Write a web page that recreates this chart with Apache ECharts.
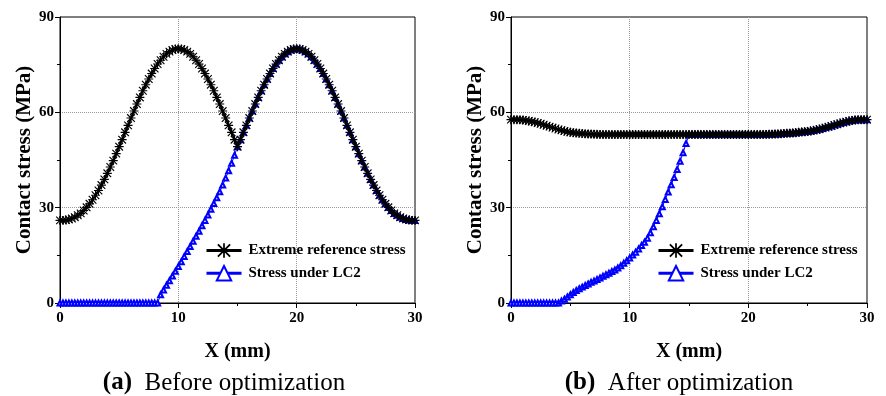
<!DOCTYPE html>
<html><head><meta charset="utf-8">
<script src="https://cdn.jsdelivr.net/npm/echarts@6/dist/echarts.min.js"></script>
<style>html,body{margin:0;padding:0;background:#fff}#c{width:886px;height:396px}</style>
</head><body><div id="c"></div>
<script>
// ---------- data ----------
// x positions in mm (sample grid every 0.25 mm, 0..30)
const xMm = [];
for (let i = 0; i <= 120; i++) xMm.push(i * 0.25);

const xTicks = [0, 10, 20, 30];
const yTicks = [0, 30, 60, 90];

// (a) Before optimization
const refStressA = [
  26.0, 26.0, 26.1, 26.3, 26.6, 27.0, 27.6, 28.2, 29.1, 30.1,
  31.2, 32.5, 33.9, 35.4, 37.1, 38.9, 40.8, 42.8, 44.8, 47.0,
  49.2, 51.4, 53.7, 55.9, 58.2, 60.4, 62.6, 64.7, 66.8, 68.7,
  70.5, 72.2, 73.8, 75.2, 76.4, 77.5, 78.4, 79.1, 79.6, 79.9, 80.0,
  79.9, 79.6, 79.1, 78.4, 77.5, 76.4, 75.2, 73.8, 72.2, 70.5,
  68.7, 66.8, 64.7, 62.6, 60.4, 58.2, 55.9, 53.7, 51.4, 49.2,
  51.4, 53.7, 55.9, 58.2, 60.4, 62.6, 64.7, 66.8, 68.7, 70.5,
  72.2, 73.8, 75.2, 76.4, 77.5, 78.4, 79.1, 79.6, 79.9, 80.0,
  79.9, 79.6, 79.1, 78.4, 77.5, 76.4, 75.2, 73.8, 72.2, 70.5,
  68.7, 66.8, 64.7, 62.6, 60.4, 58.2, 55.9, 53.7, 51.4, 49.2,
  47.0, 44.8, 42.8, 40.8, 38.9, 37.1, 35.4, 33.9, 32.5, 31.2,
  30.1, 29.1, 28.2, 27.6, 27.0, 26.6, 26.3, 26.1, 26.0, 26.0
];
const lc2StressA = [
  0, 0, 0, 0, 0, 0, 0, 0, 0, 0,
  0, 0, 0, 0, 0, 0, 0, 0, 0, 0,
  0, 0, 0, 0, 0, 0, 0, 0, 0, 0,
  0, 0, 0, 0,
  2.6, 4.1, 5.6, 7.0, 8.5, 10.0, 11.5, 13.0, 14.6, 16.2,
  17.8, 19.4, 21.0, 22.6, 24.3, 26.0, 27.7, 29.5, 31.3, 33.1,
  35.0, 37.1, 39.3, 41.6, 44.0, 46.5, 49.2,
  51.4, 53.7, 55.9, 58.2, 60.4, 62.6, 64.7, 66.8, 68.7, 70.5,
  72.2, 73.8, 75.2, 76.4, 77.5, 78.4, 79.1, 79.6, 79.9, 80.0,
  79.9, 79.6, 79.1, 78.4, 77.5, 76.4, 75.2, 73.8, 72.2, 70.5,
  68.7, 66.8, 64.7, 62.6, 60.4, 58.2, 55.9, 53.7, 51.4, 49.2,
  47.0, 44.8, 42.8, 40.8, 38.9, 37.1, 35.4, 33.9, 32.5, 31.2,
  30.1, 29.1, 28.2, 27.6, 27.0, 26.6, 26.3, 26.1, 26.0, 26.0
];

// (b) After optimization
const refStressB = [
  57.7, 57.7, 57.7, 57.65, 57.6, 57.45, 57.3, 57.1, 56.9, 56.65,
  56.4, 56.1, 55.8, 55.5, 55.2, 54.9, 54.6, 54.35, 54.1, 53.9,
  53.7, 53.6, 53.5, 53.4, 53.3, 53.25, 53.2, 53.15, 53.1, 53.1,
  53.05, 53.05,
  53.0, 53.0, 53.0, 53.0, 53.0, 53.0, 53.0, 53.0, 53.0, 53.0,
  53.0, 53.0, 53.0, 53.0, 53.0, 53.0, 53.0, 53.0, 53.0, 53.0,
  53.0, 53.0, 53.0, 53.0, 53.0, 53.0, 53.0, 53.0, 53.0, 53.0,
  53.0, 53.0, 53.0, 53.0, 53.0, 53.0, 53.0, 53.0, 53.0, 53.0,
  53.0, 53.0, 53.0, 53.0, 53.0, 53.0, 53.0, 53.0, 53.0, 53.0,
  53.0, 53.0, 53.0,
  53.0, 53.05, 53.1, 53.1, 53.15, 53.2, 53.25, 53.3, 53.4, 53.45,
  53.5, 53.6, 53.7, 53.8, 53.9, 54.0, 54.15, 54.3, 54.5, 54.7,
  54.95, 55.2, 55.45, 55.7, 56.0, 56.25, 56.55, 56.8, 57.05, 57.3,
  57.45, 57.6, 57.65, 57.7, 57.7, 57.7
];
const lc2StressB = [
  0, 0, 0, 0, 0, 0, 0, 0, 0, 0,
  0, 0, 0, 0, 0, 0, 0,
  0.6, 1.2, 1.9, 2.6, 3.3, 3.9, 4.5, 5.0, 5.5, 6.0,
  6.5, 6.9, 7.4, 7.9, 8.4, 8.9, 9.4, 9.9, 10.4, 11.0,
  11.7, 12.5, 13.3, 14.2, 15.1, 16.0, 17.0, 18.1, 19.1, 20.4,
  22.1, 24.0, 26.0, 28.1, 30.3, 32.6, 34.9, 37.2, 39.5, 42.0,
  44.6, 47.3, 50.2, 53.0,
  53.0, 53.0, 53.0, 53.0, 53.0, 53.0, 53.0, 53.0, 53.0, 53.0,
  53.0, 53.0, 53.0, 53.0, 53.0, 53.0, 53.0, 53.0, 53.0, 53.0,
  53.0, 53.0, 53.0, 53.0,
  53.0, 53.05, 53.1, 53.1, 53.15, 53.2, 53.25, 53.3, 53.4, 53.45,
  53.5, 53.6, 53.7, 53.8, 53.9, 54.0, 54.15, 54.3, 54.5, 54.7,
  54.95, 55.2, 55.45, 55.7, 56.0, 56.25, 56.55, 56.8, 57.05, 57.3,
  57.45, 57.6, 57.65, 57.7, 57.7, 57.7
];

const seriesNames = ['Extreme reference stress', 'Stress under LC2'];
const captions = ['(a)', 'Before optimization', '(b)', 'After optimization'];

// ---------- chart ----------
const FONT = '"Liberation Serif", "Times New Roman", serif';
const ASTERISK = 'path://M8.8,0L11.2,0L11.2,20L8.8,20Z M0,8.8L20,8.8L20,11.2L0,11.2Z M0.6,2.4L2.4,0.6L19.4,17.6L17.6,19.4Z M17.6,0.6L19.4,2.4L2.4,19.4L0.6,17.6Z';

function pairs(ys) { return xMm.map((x, i) => [x, ys[i]]); }

function xAxisCfg(g) {
  return {
    gridIndex: g, type: 'value', min: xTicks[0], max: xTicks[xTicks.length - 1], interval: xTicks[1] - xTicks[0],
    name: 'X (mm)', nameLocation: 'middle', nameGap: 39,
    nameTextStyle: { fontFamily: FONT, fontWeight: 'bold', fontSize: 20, color: '#000' },
    axisLine: { show: true, onZero: false, lineStyle: { color: '#000', width: 1 } },
    axisTick: { show: true, length: 5, lineStyle: { color: '#000', width: 1 } },
    minorTick: { show: true, splitNumber: 2, length: 3, lineStyle: { color: '#000', width: 1 } },
    axisLabel: { margin: 8, fontFamily: FONT, fontWeight: 'bold', fontSize: 15, color: '#000' },
    splitLine: { show: true, showMinLine: false, showMaxLine: false, lineStyle: { color: '#999', type: 'dotted', width: 1 } },
    minorSplitLine: { show: false }
  };
}
function yAxisCfg(g) {
  return {
    gridIndex: g, type: 'value', min: yTicks[0], max: yTicks[yTicks.length - 1], interval: yTicks[1] - yTicks[0],
    name: 'Contact stress (MPa)', nameLocation: 'middle', nameGap: 25,
    nameTextStyle: { fontFamily: FONT, fontWeight: 'bold', fontSize: 21, color: '#000' },
    axisLine: { show: true, onZero: false, lineStyle: { color: '#000', width: 1 } },
    axisTick: { show: true, length: 5, lineStyle: { color: '#000', width: 1 } },
    minorTick: { show: true, splitNumber: 2, length: 3, lineStyle: { color: '#000', width: 1 } },
    axisLabel: { margin: 6, fontFamily: FONT, fontWeight: 'bold', fontSize: 15, color: '#000' },
    splitLine: { show: true, showMinLine: false, showMaxLine: false, lineStyle: { color: '#999', type: 'dotted', width: 1 } },
    minorSplitLine: { show: false }
  };
}
function refSeries(g, ys) {
  return {
    name: seriesNames[0], type: 'line', xAxisIndex: g, yAxisIndex: g, data: pairs(ys),
    symbol: ASTERISK, symbolSize: 9, showSymbol: true, showAllSymbol: true,
    itemStyle: { color: '#000' }, lineStyle: { color: '#000', width: 2 }, z: 3, silent: true
  };
}
function lc2Series(g, ys) {
  return {
    name: seriesNames[1], type: 'line', xAxisIndex: g, yAxisIndex: g, data: pairs(ys),
    symbol: 'emptyTriangle', symbolSize: 5, showSymbol: true, showAllSymbol: true,
    itemStyle: { color: '#0000ff', borderColor: '#0000ff', borderWidth: 0.9 },
    lineStyle: { color: '#0000ff', width: 1 }, z: 2, silent: true
  };
}
function legendCfg(left) {
  return {
    left: left, top: 243, orient: 'vertical', itemWidth: 35, itemHeight: 18, itemGap: 7, padding: 0,
    data: seriesNames, selectedMode: false,
    lineStyle: { width: 3 },
    textStyle: { fontFamily: FONT, fontWeight: 'bold', fontSize: 15, color: '#000', padding: [0, 0, 0, 2] }
  };
}
function captionCfg(x, tag, text) {
  return {
    type: 'text', x: x, y: 383, silent: true,
    style: {
      text: '{b|' + tag + '}{r|  ' + text + '}',
      align: 'center', verticalAlign: 'middle', fill: '#000',
      rich: {
        b: { fontFamily: FONT, fontWeight: 'bold', fontSize: 25, fill: '#000' },
        r: { fontFamily: FONT, fontWeight: 'normal', fontSize: 25, fill: '#000' }
      }
    }
  };
}

const chart = echarts.init(document.getElementById('c'), null, { renderer: 'canvas' });
chart.setOption({
  animation: false,
  backgroundColor: '#fff',
  grid: [
    { left: 60, top: 17, width: 355, height: 286, show: true, borderColor: '#000', borderWidth: 1, backgroundColor: 'transparent' },
    { left: 511, top: 17, width: 356, height: 286, show: true, borderColor: '#000', borderWidth: 1, backgroundColor: 'transparent' }
  ],
  xAxis: [xAxisCfg(0), xAxisCfg(1)],
  yAxis: [yAxisCfg(0), yAxisCfg(1)],
  legend: [legendCfg(205), legendCfg(657)],
  series: [
    refSeries(0, refStressA), lc2Series(0, lc2StressA),
    refSeries(1, refStressB), lc2Series(1, lc2StressB)
  ],
  graphic: [
    captionCfg(224, captions[0], captions[1]),
    captionCfg(679, captions[2], captions[3])
  ]
});
</script></body></html>
